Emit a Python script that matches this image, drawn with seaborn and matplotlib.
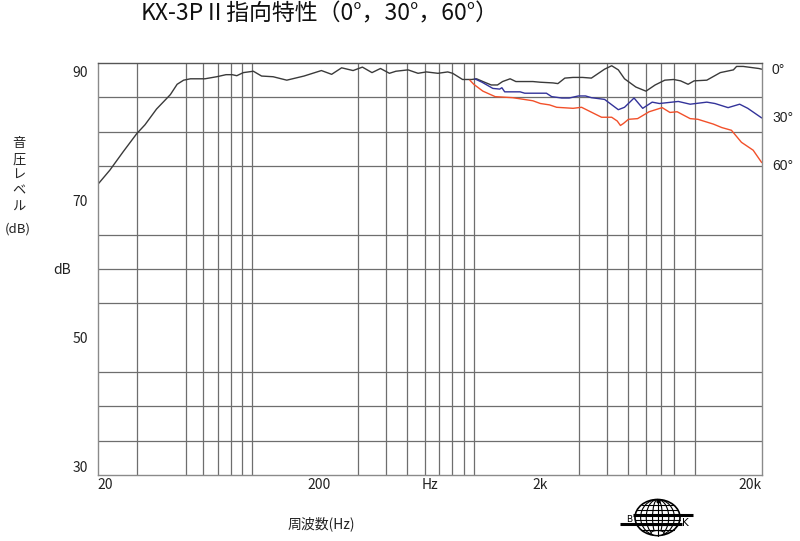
import matplotlib
matplotlib.use("Agg")
import matplotlib.pyplot as plt
from matplotlib.ticker import NullFormatter
from matplotlib.patches import Ellipse
import matplotlib.transforms as mtransforms
import numpy as np
import pandas as pd
import seaborn as sns

# ---------------- data ----------------
angles = ["0°", "30°", "60°"]

freq_0 = [20, 22.7, 26.1, 30, 32.7, 36.9, 42.6, 45.7, 48.9, 52.5, 61, 69, 76, 81, 85,
          91, 101, 110, 124, 143, 171, 205, 228, 253, 285, 314, 347, 379, 416, 445,
          505, 560, 611, 689, 763, 803, 890, 980, 1030, 1100, 1200, 1280, 1350, 1460,
          1550, 1850, 2000, 2280, 2400, 2580, 2810, 3100, 3400, 3900, 4200, 4500, 4800,
          5400, 6000, 6600, 7300, 8000, 8600, 9300, 9900, 11300, 13000, 14900, 15400,
          16500, 19400, 20000]
level_0 = [72.3, 74.4, 77.1, 79.7, 81.0, 83.3, 85.4, 86.9, 87.5, 87.7, 87.7, 88.0, 88.3, 88.3, 88.15,
           88.6, 88.8, 88.1, 88.0, 87.5, 88.1, 88.9, 88.35, 89.3, 88.9, 89.4, 88.6, 89.2, 88.5, 88.8,
           89.0, 88.5, 88.7, 88.5, 88.7, 88.5, 87.6, 87.6, 87.7, 87.3, 86.8, 86.8, 87.3, 87.7,
           87.3, 87.3, 87.2, 87.1, 87.0, 87.8, 87.9, 87.9, 87.8, 89.1, 89.6, 89.0, 87.7,
           86.5, 85.9, 86.8, 87.5, 87.6, 87.4, 86.9, 87.4, 87.5, 88.6, 89.0, 89.5,
           89.5, 89.2, 89.1]

freq_30 = [1010, 1090, 1220, 1310, 1340, 1380, 1620, 1700, 2000, 2130, 2250, 2500, 2700,
           2970, 3200, 3400, 3900, 4500, 4800, 5300, 5800, 6400, 6900, 8400, 9500, 11300,
           12300, 14100, 15900, 17300, 20000]
level_30 = [87.7, 87.2, 86.3, 86.2, 86.4, 85.8, 85.8, 85.6, 85.6, 85.6, 85.1, 84.9, 84.9,
            85.2, 85.2, 84.95, 84.7, 83.2, 83.55, 84.9, 83.4, 84.3, 84.1, 84.4, 84.0, 84.3,
            84.1, 83.5, 84.0, 83.4, 82.0]

freq_60 = [960, 1000, 1100, 1250, 1500, 1850, 2000, 2200, 2370, 2810, 3070, 3780, 4200,
           4450, 4600, 4750, 5000, 5500, 6200, 7100, 7700, 8300, 9500, 10300, 12100, 13200,
           14600, 16200, 18300, 20000]
level_60 = [87.5, 86.9, 85.9, 85.1, 84.95, 84.5, 84.1, 83.9, 83.55, 83.4, 83.55, 82.1, 82.1,
            81.55, 80.9, 81.2, 81.8, 81.9, 82.9, 83.5, 82.8, 82.9, 81.9, 81.8, 81.1, 80.6,
            80.2, 78.45, 77.3, 75.5]

grid_freqs = [30, 50, 60, 70, 80, 90, 100, 200, 300, 400, 500, 600, 700, 800, 900, 1000,
              2000, 3000, 4000, 5000, 6000, 7000, 8000, 10000]
x_tick_vals = [20, 200, 632, 2000, 20000]
x_tick_labels = ["20", "200", "Hz", "2k", "20k"]
y_tick_vals = [90, 70, 50, 30]
y_tick_labels = ["90", "70", "50", "30"]
y_grid = list(range(35, 90, 5))

colors = ["#3a3a3a", "#33339a", "#f2502a"]

df = pd.concat([
    pd.DataFrame({"freq": freq_0, "level": level_0, "angle": angles[0]}),
    pd.DataFrame({"freq": freq_30, "level": level_30, "angle": angles[1]}),
    pd.DataFrame({"freq": freq_60, "level": level_60, "angle": angles[2]}),
], ignore_index=True)
palette = dict(zip(angles, colors))

# ---------------- style ----------------
sns.set_theme(style="white")
plt.rcParams["font.family"] = ["Noto Sans CJK JP", "DejaVu Sans"]

W, H = 800, 541
fig = plt.figure(figsize=(W / 100, H / 100), dpi=100)
ax = fig.add_axes([97.7 / W, 1 - 475 / H, (761.7 - 97.7) / W, (475 - 63) / H])

sns.lineplot(data=df, x="freq", y="level", hue="angle", palette=palette, ax=ax,
             legend=False, estimator=None, sort=False, linewidth=1.0)
ax.set_xscale("log")
ax.set_xlim(20, 20000)
ax.set_ylim(30, 90)
ax.set_axisbelow(True)

ax.set_xticks(grid_freqs, minor=True)
ax.set_yticks(y_grid, minor=True)
ax.xaxis.set_minor_formatter(NullFormatter())
ax.yaxis.set_minor_formatter(NullFormatter())
ax.set_xticks(x_tick_vals, x_tick_labels)
ax.set_yticks(y_tick_vals, y_tick_labels)
ax.grid(which="major", visible=False)
ax.grid(which="minor", color="#6e6e6e", linewidth=0.9)
ax.tick_params(which="both", length=0)
ax.tick_params(axis="x", pad=2, labelsize=10, labelcolor="#222222")
ax.tick_params(axis="y", pad=7, labelsize=10, labelcolor="#222222")
xl = ax.get_xticklabels()
xl[0].set_ha("left")
xl[-1].set_ha("right")
yl = ax.get_yticklabels()
yl[0].set_va("top")
yl[0].set_transform(yl[0].get_transform() +
                    mtransforms.ScaledTranslation(0, -3 / 100, fig.dpi_scale_trans))
yl[-1].set_va("bottom")
ax.set_xlabel("")
ax.set_ylabel("")
for s in ax.spines.values():
    s.set_color("#8a8a8a")
    s.set_linewidth(1.0)
ax.spines["top"].set_color("#555555")

# ---------------- text ----------------
fig.text(320 / W, 1 - 14 / H, "KX-3PⅡ指向特性（0°，30°，60°）", ha="center", va="center",
         fontsize=16.5, color="#111111")
vchars = ["音", "圧", "レ", "ベ", "ル"]
for i, ch in enumerate(vchars):
    fig.text(19 / W, 1 - (144 + i * 15.7) / H, ch, ha="center", va="center",
             fontsize=9.5, color="#222222")
fig.text(18 / W, 1 - 229 / H, "(dB)", ha="center", va="center", fontsize=9.5, color="#222222")
fig.text(62 / W, 1 - 270 / H, "dB", ha="center", va="center", fontsize=10, color="#222222")
fig.text(321 / W, 1 - 524 / H, "周波数(Hz)", ha="center", va="center", fontsize=10,
         color="#222222")
for lab, yy in zip(angles, [70, 118, 166]):
    fig.text(772 / W, 1 - yy / H, lab, ha="left", va="center", fontsize=10,
             family=["Liberation Sans", "DejaVu Sans"], color="#222222")

# ---------------- logo ----------------
lax = fig.add_axes([612 / W, 0, 90 / W, 48 / H])
lax.set_xlim(612, 702)
lax.set_ylim(541, 493)
lax.axis("off")
cx, cy, rw, rh = 657.5, 517.5, 45, 36
lax.add_patch(Ellipse((cx, cy), rw, rh, fill=False, ec="black", lw=1.2))
for k in [0.75, 0.5, 0.22]:
    lax.add_patch(Ellipse((cx, cy), rw * k, rh, fill=False, ec="black", lw=0.8))
lax.plot([cx, cx], [cy - rh / 2, cy + rh / 2], color="black", lw=0.8)
for d in [-13, -8, -3, 2, 7, 12]:
    hw = (rw / 2) * np.sqrt(max(0, 1 - (2 * d / rh) ** 2))
    lax.plot([cx - hw, cx + hw], [cy + d, cy + d], color="black", lw=0.8)
lax.plot([633, 693], [514.5, 514.5], color="black", lw=2.2, solid_capstyle="butt")
lax.plot([620, 682], [524, 524], color="black", lw=2.2, solid_capstyle="butt")
lax.add_patch(Ellipse((cx, 533), 13, 5, fc="white", ec="black", lw=0.8))
lax.plot([cx], [500.5], marker="o", ms=2, color="black")
lax.text(629, 519.5, "B", ha="center", va="center", fontsize=6.5,
         family=["DejaVu Sans"], color="black")
lax.text(685, 523, "K", ha="center", va="center", fontsize=7.5,
         family=["DejaVu Sans"], color="black")

fig.savefig("out.png", dpi=100)
